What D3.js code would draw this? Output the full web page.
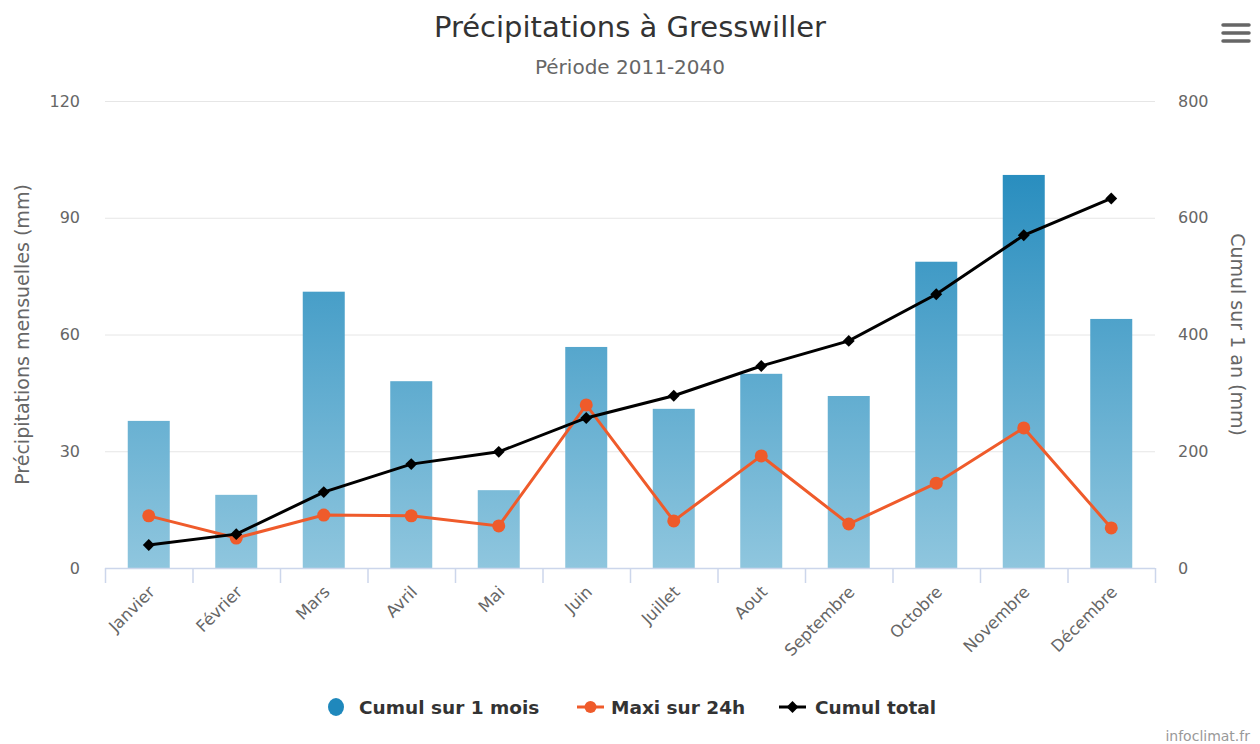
<!DOCTYPE html>
<html>
<head>
<meta charset="utf-8">
<script src="https://cdn.jsdelivr.net/npm/d3@7"></script>
<style>
  body { margin: 0; background: #fff; }
  svg { font-family: "DejaVu Sans", sans-serif; }
</style>
</head>
<body>
<svg id="chart" width="1260" height="744"></svg>
<script>
const months = ["Janvier", "Février", "Mars", "Avril", "Mai", "Juin", "Juillet",
    "Aout", "Septembre", "Octobre", "Novembre", "Décembre"];
const cumulMois = [37.8, 18.8, 71.0, 48.0, 20.0, 56.8, 40.9, 49.9, 44.2, 78.7, 101.0, 64.0];
const maxi24h = [13.4, 7.7, 13.6, 13.4, 10.8, 41.9, 12.1, 28.8, 11.3, 21.8, 36.0, 10.3];
const cumulTotal = [39.4, 58, 130, 178, 199, 257, 295, 346, 389, 469, 570, 633];
const leftTicks = [0, 30, 60, 90, 120];
const rightTicks = [0, 200, 400, 600, 800];

const svg = d3.select("#chart");
const pLeft = 105, pRight = 1155, pTop = 101, pBottom = 568;

const x = d3.scaleBand().domain(months).range([pLeft, pRight]).paddingInner(0.52).paddingOuter(0.26);
const xc = d => x(d) + x.bandwidth() / 2;
const yL = d3.scaleLinear().domain([0, 120]).range([pBottom, pTop]);
const yR = d3.scaleLinear().domain([0, 800]).range([pBottom, pTop]);

// gradient for bars, over the plot height
const grad = svg.append("defs").append("linearGradient")
    .attr("id", "barGrad")
    .attr("gradientUnits", "userSpaceOnUse")
    .attr("x1", 0).attr("x2", 0).attr("y1", pTop).attr("y2", pBottom);
grad.append("stop").attr("offset", "0%").attr("stop-color", "#1683b9");
grad.append("stop").attr("offset", "100%").attr("stop-color", "#8fc6de");

// title
svg.append("text").attr("x", 630).attr("y", 37).attr("text-anchor", "middle")
    .style("font-size", "29px").style("fill", "#333").text("Précipitations à Gresswiller");
svg.append("text").attr("x", 630).attr("y", 74).attr("text-anchor", "middle")
    .style("font-size", "20px").style("fill", "#666").text("Période 2011-2040");

// gridlines
svg.append("g").selectAll("line").data(leftTicks.slice(1)).join("line")
    .attr("x1", pLeft).attr("x2", pRight)
    .attr("y1", d => yL(d) + 0.5).attr("y2", d => yL(d) + 0.5)
    .style("stroke", "#e6e6e6").style("stroke-width", 1);

// left axis
const gL = svg.append("g").attr("transform", `translate(${pLeft - 25},0)`)
    .call(d3.axisLeft(yL).tickValues(leftTicks).tickSize(0).tickPadding(0));
gL.select(".domain").remove();
gL.selectAll("text").style("font-size", "16px").style("fill", "#666").style("font-family", "DejaVu Sans");

// right axis
const gR = svg.append("g").attr("transform", `translate(${pRight + 23},0)`)
    .call(d3.axisRight(yR).tickValues(rightTicks).tickSize(0).tickPadding(0));
gR.select(".domain").remove();
gR.selectAll("text").style("font-size", "16px").style("fill", "#666").style("font-family", "DejaVu Sans");

// axis titles
svg.append("text").attr("transform", `translate(29,${(pTop + pBottom) / 2}) rotate(-90)`)
    .attr("text-anchor", "middle").style("font-size", "19px").style("fill", "#666")
    .text("Précipitations mensuelles (mm)");
svg.append("text").attr("transform", `translate(1231,${(pTop + pBottom) / 2}) rotate(90)`)
    .attr("text-anchor", "middle").style("font-size", "19px").style("fill", "#666")
    .text("Cumul sur 1 an (mm)");

// bars
svg.append("g").selectAll("rect").data(cumulMois).join("rect")
    .attr("x", (d, i) => x(months[i]))
    .attr("width", x.bandwidth())
    .attr("y", d => yL(d))
    .attr("height", d => pBottom - yL(d))
    .style("fill", "url(#barGrad)");

// x axis
const step = (pRight - pLeft) / months.length;
const gX = svg.append("g");
gX.append("line").attr("x1", pLeft).attr("x2", pRight).attr("y1", pBottom + 0.5).attr("y2", pBottom + 0.5)
    .style("stroke", "#ccd6eb").style("stroke-width", 1.5);
gX.selectAll("line.tick").data(d3.range(months.length + 1)).join("line")
    .attr("class", "tick")
    .attr("x1", i => pLeft + i * step + 0.5).attr("x2", i => pLeft + i * step + 0.5)
    .attr("y1", pBottom).attr("y2", pBottom + 15)
    .style("stroke", "#ccd6eb").style("stroke-width", 1.5);
gX.selectAll("text").data(months).join("text")
    .attr("transform", d => `translate(${xc(d) + 7},${pBottom + 25}) rotate(-45)`)
    .attr("text-anchor", "end")
    .style("font-size", "16.5px").style("fill", "#666")
    .text(d => d);

// lines
const lineL = d3.line().x((d, i) => xc(months[i])).y(d => yL(d));
const lineR = d3.line().x((d, i) => xc(months[i])).y(d => yR(d));

svg.append("path").datum(maxi24h).attr("d", lineL)
    .style("fill", "none").style("stroke", "#ef5b2b").style("stroke-width", 3);
svg.append("g").selectAll("circle").data(maxi24h).join("circle")
    .attr("cx", (d, i) => xc(months[i])).attr("cy", d => yL(d)).attr("r", 6.5)
    .style("fill", "#ef5b2b");

svg.append("path").datum(cumulTotal).attr("d", lineR)
    .style("fill", "none").style("stroke", "#000").style("stroke-width", 3);
const diamond = d3.symbol().type(d3.symbolDiamond2).size(90);
svg.append("g").selectAll("path").data(cumulTotal).join("path")
    .attr("transform", (d, i) => `translate(${xc(months[i])},${yR(d)})`)
    .attr("d", diamond)
    .style("fill", "#000");

// legend
const lg = svg.append("g").style("font-size", "18.5px").style("font-weight", "bold").style("fill", "#333");
lg.append("ellipse").attr("cx", 336).attr("cy", 707).attr("rx", 8).attr("ry", 9).style("fill", "#1f88bc");
lg.append("text").attr("x", 359).attr("y", 714).text("Cumul sur 1 mois");
lg.append("line").attr("x1", 577).attr("x2", 604).attr("y1", 707).attr("y2", 707)
    .style("stroke", "#ef5b2b").style("stroke-width", 3);
lg.append("circle").attr("cx", 590.5).attr("cy", 707).attr("r", 6).style("fill", "#ef5b2b");
lg.append("text").attr("x", 611).attr("y", 714).text("Maxi sur 24h");
lg.append("line").attr("x1", 779).attr("x2", 806).attr("y1", 707).attr("y2", 707)
    .style("stroke", "#000").style("stroke-width", 3);
lg.append("path").attr("transform", "translate(792.5,707)").attr("d", diamond).style("fill", "#000");
lg.append("text").attr("x", 815).attr("y", 714).text("Cumul total");

// credits
svg.append("text").attr("x", 1250).attr("y", 741).attr("text-anchor", "end")
    .style("font-size", "14px").style("fill", "#999").text("infoclimat.fr");

// menu icon
svg.append("g").selectAll("line").data([0, 1, 2]).join("line")
    .attr("x1", 1223).attr("x2", 1249)
    .attr("y1", d => 25 + d * 8).attr("y2", d => 25 + d * 8)
    .style("stroke", "#666").style("stroke-width", 3.5).style("stroke-linecap", "round");
</script>
</body>
</html>
